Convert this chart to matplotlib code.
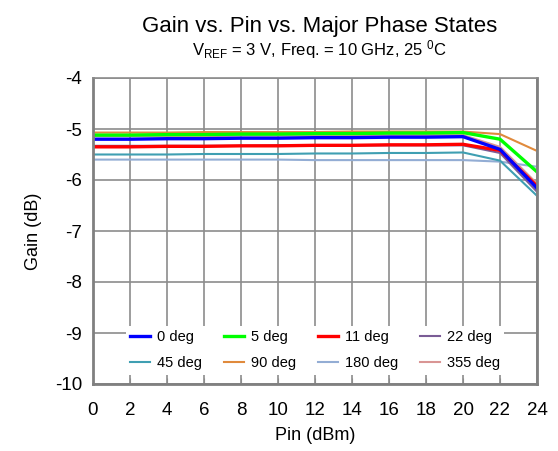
import matplotlib
matplotlib.use('Agg')
from matplotlib import pyplot as plt

plt.rcParams['font.family'] = ['Liberation Sans', 'DejaVu Sans']
plt.rcParams['axes.unicode_minus'] = False

# input power (dBm)
pin = [0, 2, 4, 6, 8, 10, 12, 14, 16, 18, 20, 22, 24]

# gain (dB) per phase state
gain_0 = [-5.20, -5.20, -5.19, -5.19, -5.18, -5.18, -5.17, -5.17, -5.16, -5.16, -5.15, -5.40, -6.16]
gain_5 = [-5.12, -5.12, -5.11, -5.11, -5.10, -5.10, -5.09, -5.09, -5.08, -5.08, -5.07, -5.20, -5.84]
gain_11 = [-5.35, -5.35, -5.34, -5.34, -5.33, -5.33, -5.32, -5.32, -5.31, -5.31, -5.30, -5.42, -6.12]
gain_22 = [-5.33, -5.33, -5.33, -5.33, -5.33, -5.32, -5.32, -5.32, -5.32, -5.32, -5.32, -5.47, -6.23]
gain_45 = [-5.50, -5.50, -5.50, -5.49, -5.49, -5.49, -5.48, -5.48, -5.47, -5.47, -5.46, -5.62, -6.31]
gain_90 = [-5.07, -5.07, -5.07, -5.06, -5.06, -5.06, -5.06, -5.05, -5.05, -5.05, -5.05, -5.10, -5.43]
gain_180 = [-5.60, -5.60, -5.60, -5.60, -5.60, -5.60, -5.61, -5.61, -5.61, -5.61, -5.61, -5.64, -5.74]
gain_355 = [-5.14, -5.14, -5.14, -5.14, -5.13, -5.13, -5.13, -5.13, -5.12, -5.12, -5.12, -5.35, -6.07]

series = [
    ('0 deg', gain_0, '#0000ff', 2.4),
    ('5 deg', gain_5, '#00ff00', 2.4),
    ('11 deg', gain_11, '#ff0000', 2.4),
    ('22 deg', gain_22, '#7a5c96', 1.5),
    ('45 deg', gain_45, '#3f9fb2', 1.5),
    ('90 deg', gain_90, '#e08a3c', 1.5),
    ('180 deg', gain_180, '#93add4', 1.5),
    ('355 deg', gain_355, '#d99594', 1.5),
]

fig = plt.figure(figsize=(5.58, 4.51), dpi=100)
ax = fig.add_axes([93 / 558, 1 - 384 / 451, 444 / 558, 306 / 451])

# draw in reverse so the thick primary colours sit on top
handles = {}
for label, gain, color, lw in reversed(series):
    handles[label] = ax.plot(pin, gain, color=color, linewidth=lw, label=label)[0]

ax.set_xlim(0, 24)
ax.set_ylim(-10, -4)
ax.set_xticks(range(0, 25, 2))
ax.set_yticks(range(-10, -3))
ax.grid(True, color='#8c8c8c', linewidth=1.2)
ax.tick_params(axis='x', direction='in', length=4, color='#8c8c8c',
               labelsize=13.5, pad=13)
ax.tick_params(axis='y', length=0, labelsize=13.5, pad=8)
for side in ['left', 'bottom', 'right']:
    ax.spines[side].set_color('#808080')
    ax.spines[side].set_linewidth(2)
ax.spines['top'].set_color('#8c8c8c')
ax.spines['top'].set_linewidth(1.2)

ax.set_xlabel('Pin (dBm)', fontsize=13, labelpad=6)
ax.set_ylabel('Gain (dB)', fontsize=13, labelpad=9)

# legend is filled row by row, matplotlib fills columns, so interleave
names = [s[0] for s in series]
order = [0, 4, 1, 5, 2, 6, 3, 7]
leg = ax.legend([handles[names[i]] for i in order], [names[i] for i in order],
                ncol=4, loc='lower center', bbox_to_anchor=(0.5, 0.006),
                frameon=True, fancybox=False, edgecolor='none',
                facecolor='white', framealpha=1, fontsize=10.5,
                handlelength=1.4, handletextpad=0.45, columnspacing=1.5,
                labelspacing=0.85, borderpad=0.3)

fig.text(320 / 558, 1 - 32 / 451, 'Gain vs. Pin vs. Major Phase States',
         ha='center', va='baseline', fontsize=16)
fig.text(320 / 558, 1 - 55 / 451,
         r'$\mathregular{V_{REF}}$ = 3 V, Freq. = 10 GHz, 25 $\mathregular{^0}$C',
         ha='center', va='baseline', fontsize=12)

plt.savefig('out.png', dpi=100)
